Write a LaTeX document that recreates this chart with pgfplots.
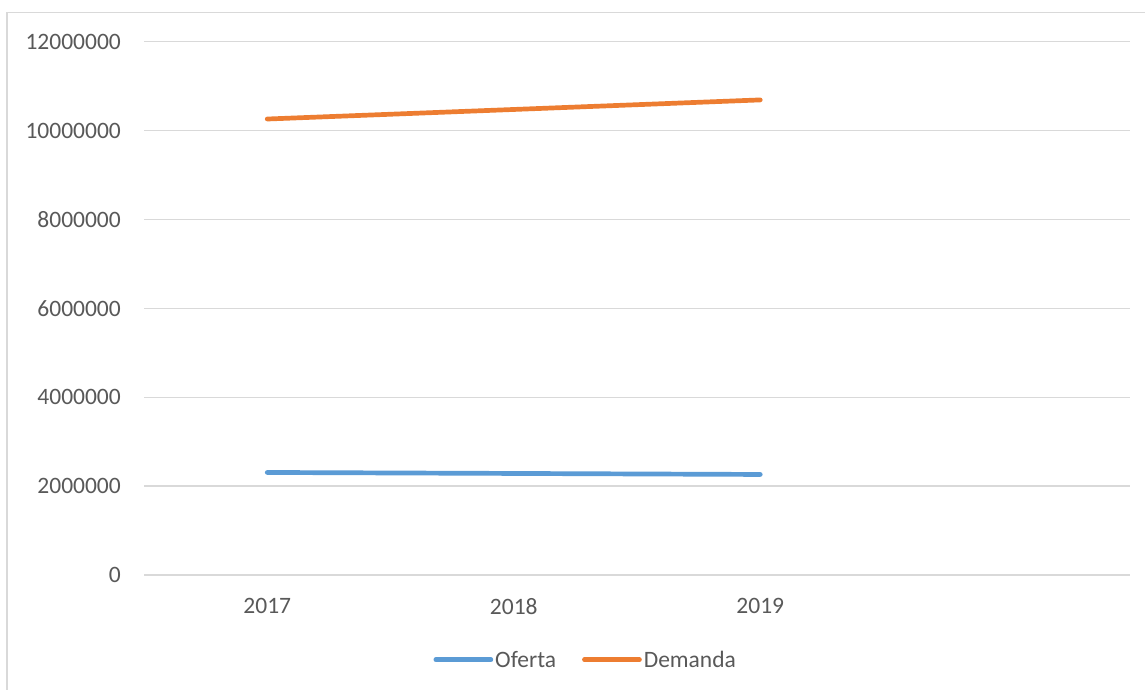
\documentclass[border=0pt]{standalone}
\usepackage{fontspec}
\setmainfont{Carlito}
\usepackage{pgfplots}
\pgfplotsset{compat=1.18}
\definecolor{oferta}{HTML}{5B9BD5}
\definecolor{demanda}{HTML}{ED7D31}
\definecolor{gridc}{HTML}{D9D9D9}
\definecolor{txt}{HTML}{595959}
\begin{document}
\begin{tikzpicture}
\path[use as bounding box] (0,0) rectangle (1145pt,690pt);
\clip (0,0) rectangle (1145pt,690pt);
\fill[white] (0,0) rectangle (1145pt,690pt);
\draw[gridc, line width=1.3pt] (7pt,-20pt) -- (7pt,677.5pt) -- (1170pt,677.5pt);
\begin{axis}[
  at={(144pt,115pt)}, anchor=south west,
  scale only axis, width=986pt, height=533.3pt,
  xmin=-0.5, xmax=3.5, ymin=0, ymax=12000000,
  xtick={0,1,2}, xticklabels={2017,2018,2019},
  ytick={0,2000000,4000000,6000000,8000000,10000000,12000000},
  yticklabels={0,2000000,4000000,6000000,8000000,10000000,12000000},
  scaled y ticks=false,
  axis line style={draw=none},
  major tick length=0pt,
  ymajorgrids, grid style={gridc, line width=1.3pt},
  tick label style={font=\fontsize{23.5}{28}\selectfont, text=txt, inner sep=0pt},
  yticklabel style={anchor=east},
  xticklabel style={anchor=north},
  yticklabel shift=23pt,
  xticklabel shift=23pt,
  legend columns=2,
  legend style={at={(0.448,-0.159)}, anchor=center, draw=none, fill=none,
    font=\fontsize{23.5}{28}\selectfont, text=txt,
    /tikz/every even column/.append style={column sep=24pt}},
  legend image code/.code={\draw[#1] (0pt,0pt) -- (55pt,0pt);},
  clip=false,
]
\addplot[oferta, line width=4.7pt, line cap=round] coordinates {(0,2307000) (1,2285000) (2,2262000)};
\addlegendentry{Oferta}
\addplot[demanda, line width=4.7pt, line cap=round] coordinates {(0,10260000) (1,10475000) (2,10690000)};
\addlegendentry{Demanda}
\end{axis}
\end{tikzpicture}
\end{document}
